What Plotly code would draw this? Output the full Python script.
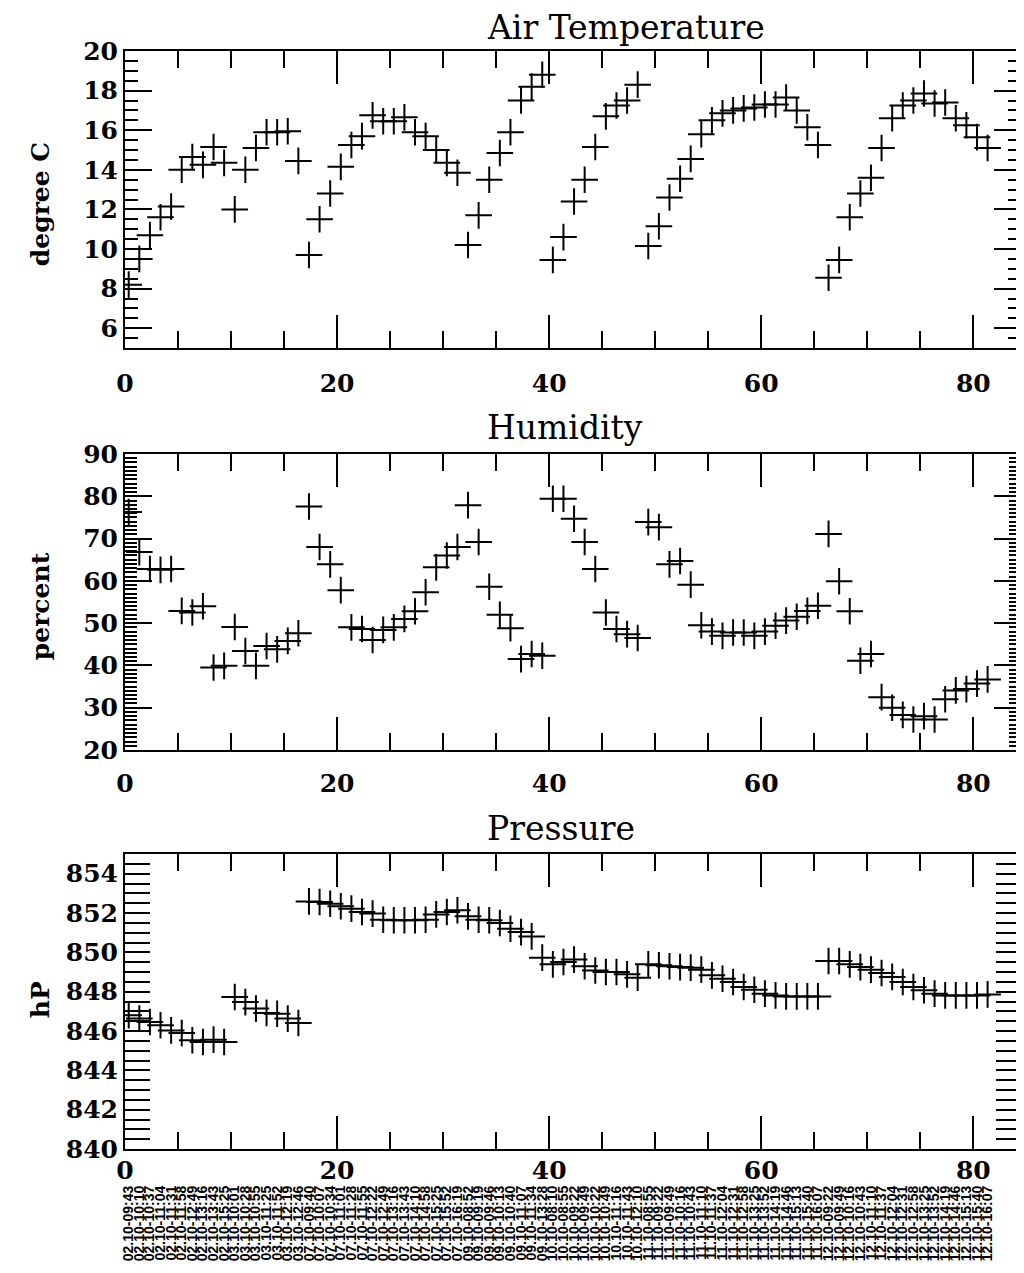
import numpy as np
import plotly.graph_objects as go

# ---------------- data ----------------
temperature = [8.2, 9.5, 10.7, 11.6, 12.15, 14.0, 14.65, 14.25, 15.15, 14.35,
               12.0, 14.0, 15.1, 15.9, 15.9, 15.95, 14.45,
               9.7, 11.5, 12.8, 14.15, 15.25, 15.7, 16.75, 16.45, 16.45, 16.65, 15.9, 15.7, 15.0, 14.35, 13.85,
               10.2, 11.7, 13.5, 14.85, 15.9, 17.5, 18.2, 18.8,
               9.45, 10.6, 12.4, 13.5, 15.15, 16.7, 17.25, 17.5, 18.3,
               10.15, 11.15, 12.6, 13.55, 14.55, 15.8, 16.5, 16.85, 17.0, 17.1, 17.15, 17.3, 17.3, 17.65, 17.0, 16.15, 15.25,
               8.55, 9.45, 11.6, 12.8, 13.6, 15.1, 16.6, 17.25, 17.5, 17.85, 17.35, 17.4, 16.6, 16.25, 15.65, 15.1]

humidity = [76.3, 66.8, 62.8, 62.6, 62.8, 52.9, 52.5, 54.0, 39.5, 39.9,
            49.1, 43.4, 39.9, 44.6, 43.8, 45.8, 47.6,
            77.6, 68.0, 63.9, 57.8, 49.0, 48.6, 46.0, 48.4, 49.0, 51.0, 52.8, 57.3, 63.2, 66.0, 68.0,
            77.9, 69.2, 58.6, 52.0, 48.8, 41.5, 42.7, 42.3,
            79.4, 79.4, 74.7, 69.2, 62.8, 52.5, 48.6, 47.4, 46.5,
            73.9, 72.7, 63.9, 64.7, 59.1, 49.5, 48.0, 47.0, 47.8, 47.8, 47.0, 48.0, 49.4, 50.6, 51.5, 52.9, 54.1,
            71.1, 59.9, 52.8, 41.1, 42.7, 32.5, 30.0, 28.3, 27.2, 28.0, 27.2, 32.0, 34.1, 34.4, 35.7, 36.7]

pressure = [846.80, 846.63, 846.46, 846.29, 846.03, 845.90, 845.53, 845.44, 845.56, 845.44,
            847.73, 847.47, 847.14, 846.92, 846.88, 846.63, 846.41,
            852.59, 852.56, 852.47, 852.34, 852.22, 852.05, 851.97, 851.66, 851.63, 851.63, 851.63, 851.66, 851.93, 852.05, 852.14,
            851.83, 851.66, 851.63, 851.49, 851.20, 851.03, 850.81, 849.73,
            849.39, 849.51, 849.63, 849.29, 849.08, 849.00, 849.00, 848.88, 848.71,
            849.39, 849.34, 849.29, 849.25, 849.22, 849.12, 848.83, 848.66, 848.49, 848.24, 848.10, 847.90, 847.81, 847.76, 847.76, 847.76, 847.76,
            849.56, 849.56, 849.39, 849.25, 849.12, 848.95, 848.75, 848.49, 848.24, 848.07, 847.90, 847.81, 847.81, 847.81, 847.81, 847.86]

time_labels = [
    "02.10-09:43", "02.10-10:10", "02.10-10:37", "02.10-11:04", "02.10-11:31",
    "02.10-11:58", "02.10-12:49", "02.10-13:16", "02.10-13:43", "02.10-15:25",
    "03.10-10:01", "03.10-10:28", "03.10-10:55", "03.10-11:25", "03.10-11:52",
    "03.10-12:19", "03.10-12:46",
    "07.10-09:40", "07.10-10:07", "07.10-10:34", "07.10-11:01", "07.10-11:28",
    "07.10-11:55", "07.10-12:22", "07.10-12:49", "07.10-13:16", "07.10-13:43",
    "07.10-14:10", "07.10-14:58", "07.10-15:25", "07.10-15:52", "07.10-16:19",
    "09.10-08:52", "09.10-09:19", "09.10-09:46", "09.10-10:13", "09.10-10:40",
    "09.10-11:07", "09.10-11:34", "09.10-13:28",
    "10.10-08:10", "10.10-08:55", "10.10-09:22", "10.10-09:49", "10.10-10:22",
    "10.10-10:49", "10.10-11:16", "10.10-11:43", "10.10-12:10",
    "11.10-08:55", "11.10-09:22", "11.10-09:49", "11.10-10:16", "11.10-10:43",
    "11.10-11:10", "11.10-11:37", "11.10-12:04", "11.10-12:31", "11.10-12:58",
    "11.10-13:25", "11.10-13:52", "11.10-14:19", "11.10-14:46", "11.10-15:13",
    "11.10-15:40", "11.10-16:07",
    "12.10-09:22", "12.10-09:49", "12.10-10:16", "12.10-10:43", "12.10-11:10",
    "12.10-11:37", "12.10-12:04", "12.10-12:31", "12.10-12:58", "12.10-13:25",
    "12.10-13:52", "12.10-14:19", "12.10-14:46", "12.10-15:13", "12.10-15:40",
    "12.10-16:07",
]

titles = ["Air Temperature", "Humidity", "Pressure"]
y_titles = ["degree C", "percent", "hP"]

# sample index -> x position (samples sit slightly right of integer ticks)
idx = np.arange(len(temperature))
xpos = idx + 0.35

# ---------------- layout geometry ----------------
# The page adds an 8 px body margin; positions below are given in screen
# pixels and converted to figure pixels.
OFF = 8
W, H = 1016, 1257
PLOT_L, PLOT_R, PLOT_T, PLOT_B = 125, 1023, 51, 1149   # screen px
ML = PLOT_L - OFF
MR = W - (PLOT_R - OFF)
MT = PLOT_T - OFF
MB = H - (PLOT_B - OFF)
PH = H - MT - MB
PW = W - ML - MR


def py(sy):  # screen y -> paper y
    return (PLOT_B - sy) / PH


def pxx(sx):  # screen x -> paper x
    return (sx - PLOT_L) / PW


panels = [(51, 348), (454, 750), (854, 1149)]   # screen px (top, bottom)

tick_font = dict(family="DejaVu Serif", size=25, color="black", weight="bold")
ytitle_font = dict(family="DejaVu Serif", size=25, color="black", weight="bold")

marker = dict(symbol="cross-thin", size=19, color="black",
              line=dict(width=2, color="black"))

fig = go.Figure()
series = [temperature, humidity, pressure]
for k, s in enumerate(series):
    fig.add_trace(go.Scatter(x=xpos, y=s, mode="markers", marker=marker,
                             xaxis="x" if k == 0 else f"x{k+1}",
                             yaxis="y" if k == 0 else f"y{k+1}",
                             showlegend=False, hoverinfo="skip"))

# invisible trace carrying the time-label axis
fig.add_trace(go.Scatter(x=xpos, y=pressure, mode="markers",
                         marker=dict(opacity=0), xaxis="x4", yaxis="y3",
                         showlegend=False, hoverinfo="skip"))

common = dict(showline=True, linecolor="black", linewidth=2, mirror="allticks",
              ticks="inside", tickcolor="black", tickwidth=2, showgrid=False,
              zeroline=False, tickfont=tick_font)

xcommon = dict(common, range=[0, 84.5], tick0=0, dtick=20, ticklen=33,
               minor=dict(dtick=5, ticklen=17, tickwidth=2, tickcolor="black",
                          ticks="inside"))

yspecs = [
    dict(range=[5, 20], tick0=0, dtick=2, ticklen=27,
         minor=dict(dtick=0.5, ticklen=13, tickwidth=2, tickcolor="black", ticks="inside")),
    dict(range=[20, 90], tick0=0, dtick=10, ticklen=27,
         minor=dict(dtick=1, ticklen=12, tickwidth=2, tickcolor="black", ticks="inside")),
    dict(range=[840, 855], tick0=0, dtick=2, ticklen=25,
         minor=dict(dtick=0.5, ticklen=12, tickwidth=2, tickcolor="black", ticks="inside")),
]
x_standoff = [12, 10, -2]

layout = dict(width=W, height=H, margin=dict(l=ML, r=MR, t=MT, b=MB, pad=0),
              paper_bgcolor="white", plot_bgcolor="white", showlegend=False)

for k in range(3):
    top, bot = panels[k]
    xn = "xaxis" if k == 0 else f"xaxis{k+1}"
    yn = "yaxis" if k == 0 else f"yaxis{k+1}"
    ya = "y" if k == 0 else f"y{k+1}"
    xa = "x" if k == 0 else f"x{k+1}"
    layout[xn] = dict(xcommon, domain=[0, 1], anchor=ya,
                      ticklabelstandoff=x_standoff[k])
    layout[yn] = dict(common, domain=[py(bot), py(top)], anchor=xa,
                      ticklabelstandoff=0, **yspecs[k])

layout["xaxis4"] = dict(overlaying="x3", anchor="y3", side="bottom",
                        range=[0, 84.5], tickmode="array", tickvals=xpos,
                        ticktext=time_labels, tickangle=-90, ticks="",
                        showline=False, showgrid=False, zeroline=False,
                        ticklabelstandoff=33,
                        tickfont=dict(family="Liberation Sans", size=14,
                                      color="black", weight="bold"))

ann = []
title_y = [28, 427, 828]   # screen px (annotation box centre)
for k in range(3):
    ann.append(dict(text=titles[k], xref="paper", yref="paper",
                    x=pxx(486), y=py(title_y[k]), xanchor="left", yanchor="middle",
                    showarrow=False,
                    font=dict(family="DejaVu Serif", size=33, color="black")))
ytitle_y = [204, 606, 1000]
for k in range(3):
    ann.append(dict(text=y_titles[k], xref="paper", yref="paper",
                    x=pxx(40), y=py(ytitle_y[k]), xanchor="center", yanchor="middle",
                    textangle=-90, showarrow=False, font=ytitle_font))
layout["annotations"] = ann

fig.update_layout(**layout)
fig.write_html("out.html")
